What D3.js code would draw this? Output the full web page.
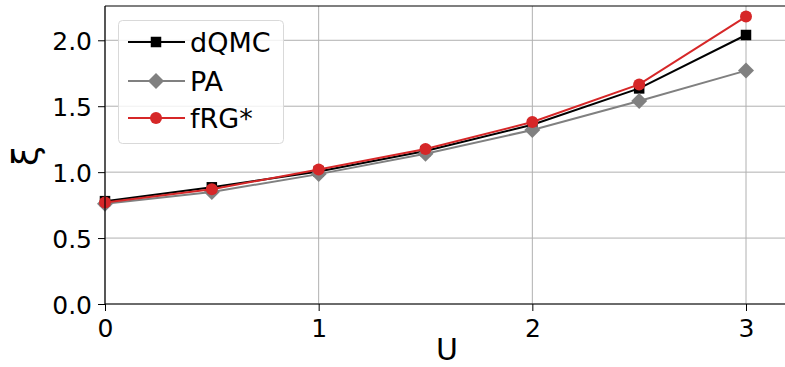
<!DOCTYPE html>
<html><head><meta charset="utf-8">
<script src="https://cdn.jsdelivr.net/npm/d3@7"></script>
<style>body{margin:0;background:#fff}svg{display:block}text{font-family:"DejaVu Sans",sans-serif}</style>
</head><body><svg id="c" width="785" height="367"></svg>
<script>
const U = [0, 0.5, 1, 1.5, 2, 2.5, 3];
const dQMC = [0.78, 0.885, 1.005, 1.16, 1.36, 1.635, 2.04];
const PA = [0.76, 0.85, 0.985, 1.14, 1.32, 1.54, 1.77];
const fRG = [0.77, 0.87, 1.02, 1.175, 1.38, 1.665, 2.18];
const xTicks = [0, 1, 2, 3];
const yTicks = [0, 0.5, 1.0, 1.5, 2.0];
const seriesNames = ["dQMC", "PA", "fRG*"];

const svg = d3.select("#c");
const L = 105, T = 6, B = 304, R = 785;
const x = d3.scaleLinear().domain([0, 3]).range([105, 746]);
const y = d3.scaleLinear().domain([0, 2.26]).range([B, T]);

const series = [
  {name: seriesNames[0], vals: dQMC, color: "#000000", marker: "square"},
  {name: seriesNames[1], vals: PA, color: "#808080", marker: "diamond"},
  {name: seriesNames[2], vals: fRG, color: "#d62728", marker: "circle"}
];

// grid
const g = svg.append("g");
g.selectAll(".gx").data(xTicks).join("line")
  .attr("x1", d => x(d)).attr("x2", d => x(d)).attr("y1", T).attr("y2", B)
  .attr("stroke", "#b0b0b0").attr("stroke-width", 1);
g.selectAll(".gy").data(yTicks).join("line")
  .attr("x1", L).attr("x2", R).attr("y1", d => y(d)).attr("y2", d => y(d))
  .attr("stroke", "#b0b0b0").attr("stroke-width", 1);

function drawMarker(sel, type, color) {
  if (type === "square") {
    const s = 10.5;
    sel.append("rect").attr("x", -s / 2).attr("y", -s / 2).attr("width", s).attr("height", s).attr("fill", color);
  } else if (type === "diamond") {
    const s = 8;
    sel.append("path").attr("d", `M0,${-s}L${s},0L0,${s}L${-s},0Z`).attr("fill", color);
  } else {
    sel.append("circle").attr("r", 6).attr("fill", color);
  }
}

const lineGen = (vals) => d3.line().x((d, i) => x(U[i])).y(d => y(d))(vals);
series.forEach(s => {
  const gs = svg.append("g");
  gs.append("path").attr("d", lineGen(s.vals)).attr("fill", "none").attr("stroke", s.color).attr("stroke-width", 2);
  s.vals.forEach((v, i) => {
    const m = gs.append("g").attr("transform", `translate(${x(U[i])},${y(v)})`);
    drawMarker(m, s.marker, s.color);
  });
});

// axes
const xa = svg.append("g").attr("transform", `translate(0,${B})`)
  .call(d3.axisBottom(x).tickValues(xTicks).tickFormat(d3.format("d")).tickSize(7).tickPadding(8));
xa.select(".domain").remove();
xa.selectAll("text").attr("font-size", 25).attr("fill", "#000").attr("font-family", "DejaVu Sans");
xa.selectAll("line").attr("stroke", "#000").attr("stroke-width", 1);
const ya = svg.append("g").attr("transform", `translate(${L},0)`)
  .call(d3.axisLeft(y).tickValues(yTicks).tickFormat(d3.format(".1f")).tickSize(7).tickPadding(6));
ya.select(".domain").remove();
ya.selectAll("text").attr("font-size", 25).attr("fill", "#000").attr("font-family", "DejaVu Sans").attr("dy", "0.36em");
ya.selectAll("line").attr("stroke", "#000").attr("stroke-width", 1);

// spines
svg.append("line").attr("x1", L).attr("x2", L).attr("y1", T).attr("y2", B).attr("stroke", "#000").attr("stroke-width", 1.2);
svg.append("line").attr("x1", L).attr("x2", R).attr("y1", B).attr("y2", B).attr("stroke", "#000").attr("stroke-width", 1.2);
svg.append("line").attr("x1", L).attr("x2", R).attr("y1", T).attr("y2", T).attr("stroke", "#000").attr("stroke-width", 1.2);

// labels
svg.append("text").attr("x", 447).attr("y", 359.5).attr("text-anchor", "middle").attr("font-size", 30).text("U");
svg.append("text").attr("transform", "translate(38,156) rotate(-90)").attr("text-anchor", "middle").attr("font-size", 36).text("ξ");

// legend
const lg = svg.append("g");
lg.append("rect").attr("x", 118.5).attr("y", 20.5).attr("width", 165).attr("height", 123).attr("rx", 4)
  .attr("fill", "#fff").attr("fill-opacity", 0.8).attr("stroke", "#d9d9d9").attr("stroke-width", 1);
const rowsY = [42, 81, 118];
series.forEach((s, i) => {
  const r = lg.append("g").attr("transform", `translate(0,${rowsY[i]})`);
  r.append("line").attr("x1", 128).attr("x2", 185).attr("stroke", s.color).attr("stroke-width", 2);
  drawMarker(r.append("g").attr("transform", "translate(156,0)"), s.marker, s.color);
  r.append("text").attr("x", 190).attr("y", 0).attr("dy", "0.36em").attr("font-size", 27).text(s.name);
});
</script></body></html>
